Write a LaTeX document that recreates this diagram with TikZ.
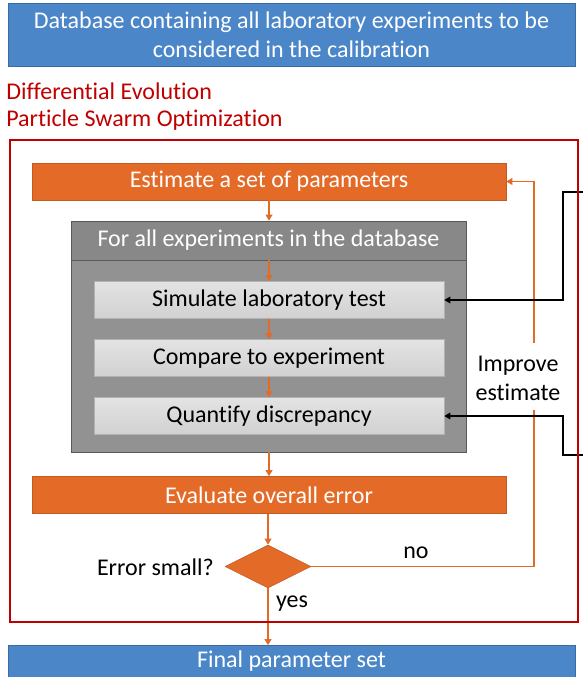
\documentclass[tikz,border=0pt]{standalone}
\usepackage{fontspec}
\setmainfont{Carlito}[Ligatures=NoCommon]
\usetikzlibrary{shapes.geometric,arrows.meta}
\definecolor{calblue}{RGB}{74,134,200}
\definecolor{calorange}{RGB}{228,106,40}
\definecolor{calred}{RGB}{192,0,0}
\definecolor{loopgray}{RGB}{146,146,146}
\definecolor{headgray}{RGB}{136,136,136}
\newcommand\px[1]{#1*0.75pt}
\tikzset{
  txt/.style={font=\fontsize{18}{21.75}\selectfont},
  bluebox/.style={txt,draw=calblue!80!black,fill=calblue,text=white,align=center,inner sep=0pt},
  orangebox/.style={txt,draw=calorange!85!black,fill=calorange,text=white,inner sep=0pt,
    minimum width=\px{474},minimum height=\px{37}},
  stepbox/.style={txt,draw=gray!60,top color=gray!22,bottom color=gray!36,inner sep=0pt,
    minimum width=\px{350},minimum height=\px{37}},
  flow/.style={draw=calorange,line width=1.1pt,-{Triangle[length=4.5pt,width=5pt]}},
  back/.style={draw=black,line width=0.8pt,-{Triangle[length=4.5pt,width=5pt]}}
}
\begin{document}
\begin{tikzpicture}[x=0.75pt,y=-0.75pt]
\useasboundingbox (0,0) rectangle (583,677);

% database and optimizer names
\node[bluebox,minimum width=\px{567},minimum height=\px{63}] (db) at (291.5,35)
  {Database containing all laboratory experiments to be\\considered in the calibration};
\node[txt,text=calred,anchor=west,inner sep=0pt] (de) at (6,91) {Differential Evolution};
\node[txt,text=calred,anchor=west,inner sep=0pt] (pso) at (6,120) {Particle Swarm Optimization};

% black inputs from the right
\coordinate (in1) at (583,192);
\coordinate (in2) at (583,455);

% optimisation loop
\node[orangebox] (est) at (269,181.5) {Estimate a set of parameters};
\node[draw=gray!70!black,fill=loopgray,minimum width=\px{395},minimum height=\px{231},inner sep=0pt] (loop) at (268.5,336.5) {};
\node[txt,draw=gray!70!black,fill=headgray,text=white,minimum width=\px{395},minimum height=\px{39},inner sep=0pt,anchor=north] (hdr) at (loop.north) {For all experiments in the database};
\node[stepbox] (sim) at (269,300) {Simulate laboratory test};
\node[stepbox] (cmp) at (269,358) {Compare to experiment};
\node[stepbox] (qua) at (269,416) {Quantify discrepancy};
\node[orangebox] (eval) at (269,495) {Evaluate overall error};
\node[diamond,draw=calorange!85!black,fill=calorange,minimum width=\px{86},minimum height=\px{43},inner sep=0pt] (dec) at (268,566.5) {};
\node[txt,anchor=east,inner sep=0pt] (ask) at (214,567) {Error small?};
\node[txt,inner sep=0pt] (no) at (416,553) {no};
\node[txt,inner sep=0pt] (yes) at (292,604) {yes};
\node[txt,align=center,inner sep=0pt] (imp) at (518,378) {Improve\\estimate};
\coordinate (fbtop) at (534,343);
\coordinate (fbbot) at (534,410);

\node[bluebox,minimum width=\px{567},minimum height=\px{32}] (final) at (291.5,661.5) {Final parameter set};

% connectors
\draw[flow] (est.south) -- (est.south |- loop.north);
\draw[flow] (hdr.south -| sim.north) -- (sim.north);
\draw[flow] (sim) -- (cmp);
\draw[flow] (cmp) -- (qua);
\draw[flow] (loop.south -| eval.north) -- (eval.north);
\draw[flow] (eval.south -| dec.north) -- (dec.north);
\draw[flow] (dec.south) -- (dec.south |- final.north);
\draw[draw=calorange,line width=1.1pt] (dec.east) -| (fbbot);
\draw[flow] (fbtop) |- (est.east);

\draw[back] (in1) -- ++(-20,0) |- (sim.east);
\draw[back] (in2) -- ++(-20,0) |- (qua.east);

% frame of the optimizer
\draw[calred,line width=1.6pt] (10,140) rectangle (578,622);
\end{tikzpicture}
\end{document}
